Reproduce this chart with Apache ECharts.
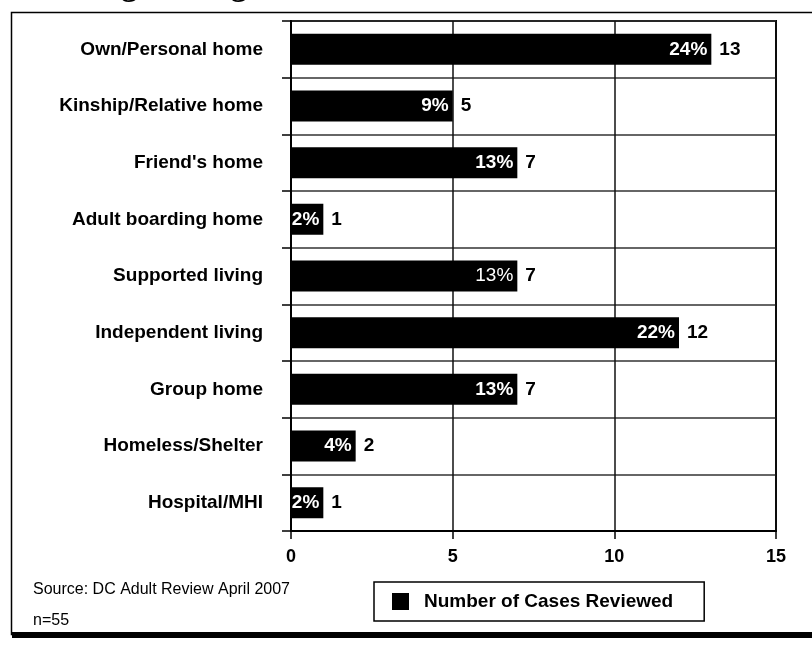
<!DOCTYPE html>
<html>
<head>
<meta charset="utf-8">
<script src="https://cdn.jsdelivr.net/npm/echarts@6/dist/echarts.min.js"></script>
<style>
  html, body { margin: 0; padding: 0; background: #fff; }
  #chart { width: 812px; height: 645px; }
</style>
</head>
<body>
<div id="chart"></div>
<script>
// Living arrangement categories, top to bottom
const categories = [
  'Own/Personal home',
  'Kinship/Relative home',
  "Friend's home",
  'Adult boarding home',
  'Supported living',
  'Independent living',
  'Group home',
  'Homeless/Shelter',
  'Hospital/MHI'
];
// Number of cases reviewed per arrangement
const cases = [13, 5, 7, 1, 7, 12, 7, 2, 1];
// Share of the 55 reviewed cases, in percent
const percents = [24, 9, 13, 2, 13, 22, 13, 4, 2];
// Value axis ticks
const xTicks = [0, 5, 10, 15];

const seriesName = 'Number of Cases Reviewed';
const FONT = '"Liberation Sans", Arial, sans-serif';

const chart = echarts.init(document.getElementById('chart'), null, { renderer: 'canvas' });

const pctData = cases.map((v, i) => ({
  value: v,
  label: { fontWeight: categories[i] === 'Supported living' ? 'normal' : 'bold' }
}));

chart.setOption({
  animation: false,
  backgroundColor: '#fff',
  grid: {
    left: 291, right: 36, top: 21, bottom: 114,
    show: true, borderColor: '#000', borderWidth: 2, backgroundColor: 'transparent'
  },
  xAxis: {
    type: 'value',
    min: xTicks[0], max: xTicks[xTicks.length - 1], interval: 5,
    axisLine: { show: true, lineStyle: { color: '#000', width: 2 } },
    axisTick: { show: true, length: 8, lineStyle: { color: '#000', width: 1.5 } },
    splitLine: { show: true, lineStyle: { color: '#111', width: 1.5 } },
    axisLabel: { color: '#000', fontFamily: FONT, fontWeight: 'bold', fontSize: 18, margin: 17 }
  },
  yAxis: {
    type: 'category',
    data: categories,
    inverse: true,
    axisLine: { show: true, lineStyle: { color: '#000', width: 2 } },
    axisTick: { show: true, length: 9, lineStyle: { color: '#000', width: 1.5 } },
    splitLine: { show: true, lineStyle: { color: '#333', width: 1.5 } },
    axisLabel: { color: '#000', fontFamily: FONT, fontWeight: 'bold', fontSize: 19, margin: 28, padding: [0, 0, 6, 0] }
  },
  legend: {
    data: [seriesName],
    left: 374, top: 582,
    orient: 'horizontal',
    icon: 'rect',
    itemWidth: 17, itemHeight: 17,
    padding: [10, 31, 10, 18],
    borderColor: '#000', borderWidth: 1.5,
    backgroundColor: '#fff',
    textStyle: { color: '#000', fontFamily: FONT, fontWeight: 'bold', fontSize: 19, padding: [0, 0, 0, 10] }
  },
  series: [
    {
      name: seriesName,
      type: 'bar',
      data: pctData,
      barWidth: 31,
      itemStyle: { color: '#000' },
      label: {
        show: true,
        position: 'insideRight',
        distance: 4,
        color: '#fff',
        fontFamily: FONT,
        fontSize: 19,
        formatter: p => percents[p.dataIndex] + '%'
      },
      z: 3
    },
    {
      name: 'count',
      type: 'bar',
      data: cases,
      barWidth: 31,
      barGap: '-100%',
      itemStyle: { color: 'rgba(0,0,0,0)' },
      label: {
        show: true,
        position: 'right',
        distance: 8,
        color: '#000',
        fontFamily: FONT,
        fontWeight: 'bold',
        fontSize: 19
      },
      silent: true,
      z: 2
    }
  ],
  graphic: [
    // Frame around the figure with a heavy bottom edge
    {
      type: 'rect', left: 9, top: 10, z: -10,
      shape: { width: 900, height: 622 },
      style: { fill: 'none', stroke: '#000', lineWidth: 1.5 }
    },
    {
      type: 'rect', left: 12, top: 632, z: -9,
      shape: { width: 900, height: 6 },
      style: { fill: '#000' }
    },
    // Heading, running off the top edge
    {
      type: 'text', x: -71, y: -13, z: 5,
      style: {
        text: 'Current Living Arrangement of Consumers at the Time of Review',
        fill: '#000',
        font: 'bold 32px "Liberation Serif", "Times New Roman", serif',
        verticalAlign: 'middle'
      }
    },
    {
      type: 'text', x: 33, y: 590, z: 5,
      style: { text: 'Source: DC Adult Review April 2007', fill: '#000', font: '16px "Liberation Sans", Arial, sans-serif', verticalAlign: 'middle' }
    },
    {
      type: 'text', x: 33, y: 621, z: 5,
      style: { text: 'n=55', fill: '#000', font: '16px "Liberation Sans", Arial, sans-serif', verticalAlign: 'middle' }
    }
  ]
});
</script>
</body>
</html>
